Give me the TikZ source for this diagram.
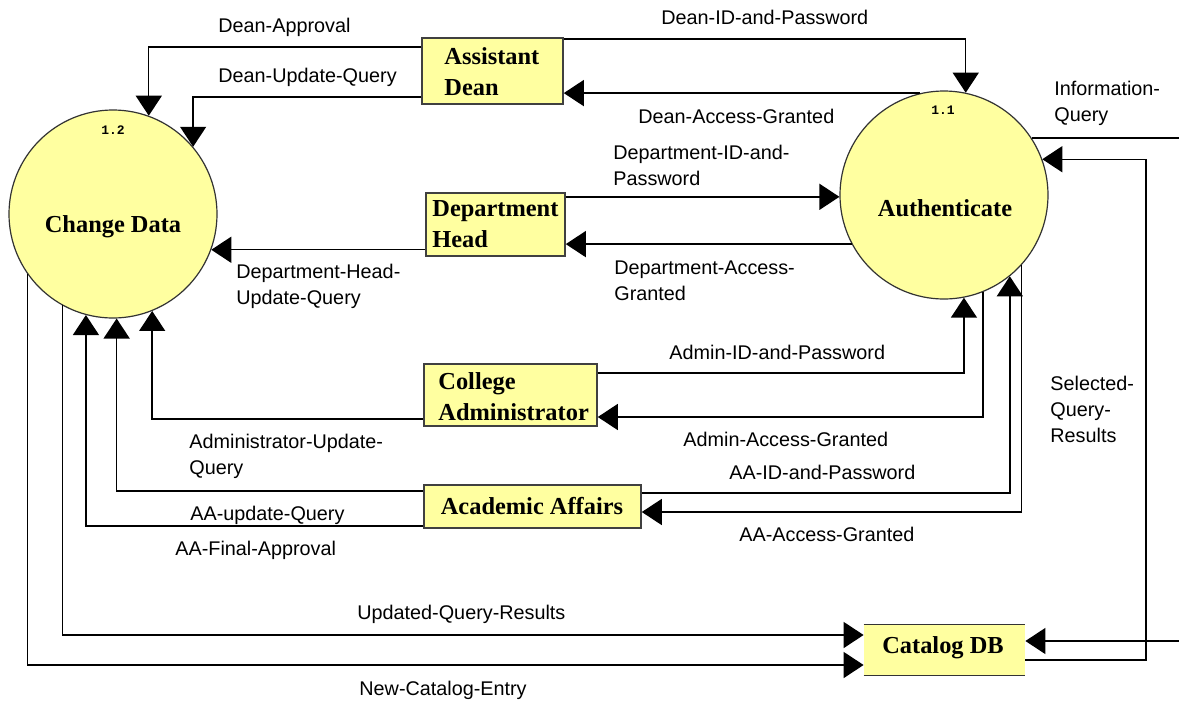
\documentclass[tikz,border=0pt]{standalone}
\usepackage{fontspec}
\setmainfont{Liberation Sans}
\newfontfamily\dfdserif{Liberation Serif}
\newfontfamily\dfdmono{Liberation Mono}
\usetikzlibrary{arrows.meta,calc}
\definecolor{dfdyellow}{RGB}{255,255,160}
\begin{document}
\begin{tikzpicture}[x=0.5pt,y=-0.5pt,
  proc/.style={circle, draw=black!80, fill=dfdyellow, line width=0.6pt, minimum size=104pt, inner sep=0pt},
  proctext/.style={font=\dfdserif\bfseries\fontsize{12.2}{15.5}\selectfont, inner sep=0pt},
  ent/.style={rectangle, draw=black!75, fill=dfdyellow, line width=0.8pt, inner sep=0pt},
  store/.style={rectangle, fill=dfdyellow, inner sep=0pt},
  enttext/.style={font=\dfdserif\bfseries\fontsize{12.2}{15.5}\selectfont, align=left, inner sep=0pt, anchor=west},
  flow/.style={draw, line width=0.7pt, -{Triangle[length=10pt,width=13pt]}},
  plainline/.style={draw, line width=0.7pt},
  lbl/.style={font=\fontsize{9.9}{13}\selectfont, align=left, inner sep=0pt, anchor=base west},
  num/.style={font=\dfdmono\bfseries\fontsize{6.5}{7}\selectfont, inner sep=0pt},
  ]
\useasboundingbox (0,0) rectangle (1179,702);

% processes
\node[proc] (cd) at (113,214) {};
\node[proctext] (cdt) at (113,227) {Change Data};
\node[num] (cdn) at (113,130) {1.2};
\node[proc] (au) at (944,195) {};
\node[proctext] (aut) at (945,208) {Authenticate};
\node[num] (aun) at (943,110) {1.1};

% external entities
\node[ent, minimum width=70.5pt, minimum height=33pt] (ad) at (492.5,71) {};
\node[enttext] (adt) at (444,71.5) {Assistant\\Dean};
\node[ent, minimum width=69.5pt, minimum height=31.5pt] (dh) at (495.5,224.5) {};
\node[enttext] (dht) at (432,224.5) {Department\\Head};
\node[ent, minimum width=86.5pt, minimum height=31pt] (ca) at (510.5,395) {};
\node[enttext] (cat) at (438,397) {College\\Administrator};
\node[ent, minimum width=108.5pt, minimum height=21.5pt] (aa) at (532.5,506.5) {};
\node[enttext, anchor=center] (aat) at (532,506) {Academic Affairs};

% data store
\node[store, minimum width=80.5pt, minimum height=25pt] (cdb) at (944.5,650) {};
\draw[plainline, black!80] (cdb.north west) -- (cdb.north east);
\draw[plainline, black!80] (cdb.south west) -- (cdb.south east);
\node[enttext, anchor=center] (cdbt) at (943,648) {Catalog DB};

\coordinate (edge) at (1179,0);
\coordinate (sqr) at (1146,0);

% flows
\draw[flow] (ad.west |- 0,47) -| (cd.70.3);
\draw[flow] (ad.west |- 0,97) -| (cd.40.6);
\draw[flow] (ad.east |- 0,39) -| (au.78.4);
\draw[flow] (au.103.8) -- (ad.east |- au.103.8);
\draw[flow] (dh.east |- au.181.65) -- (au.181.65);
\draw[flow] (au.208.1) -- (dh.east |- au.208.1);
\draw[flow] (dh.west |- cd.340.9) -- (cd.340.9);
\draw[flow] (ca.east |- 0,373) -| (au.281.65);
\draw[flow] (au.292.6) |- (ca.east |- 0,417);
\draw[flow] (aa.east |- 0,493) -| (au.309.4);
\draw[flow] (au.318.6) |- (aa.east |- 0,512);
\draw[flow] (ca.west |- 0,419) -| (cd.292.6);
\draw[flow] (aa.west |- 0,491) -| (cd.272.2);
\draw[flow] (aa.west |- 0,526) -| (cd.255.5);
\draw[flow] (cd.241.9) |- (cdb.west |- 0,635);
\draw[flow] (cd.215.2) |- (cdb.west |- 0,665);
\draw[plainline] (au.33.9) -- (edge |- au.33.9);
\draw[flow] (cdb.east |- 0,660) -| (sqr |- au.20.8) -- (au.20.8);
\draw[flow] (edge |- 0,641) -- (cdb.east |- 0,641);

% labels (base = baseline of the last line)
\node[lbl] (l1) at (218,32) {Dean-Approval};
\node[lbl] (l2) at (218,82) {Dean-Update-Query};
\node[lbl] (l3) at (661,24) {Dean-ID-and-Password};
\node[lbl] (l4) at (638,123) {Dean-Access-Granted};
\node[lbl] (l5) at (613,185) {Department-ID-and-\\Password};
\node[lbl] (l6) at (614,300) {Department-Access-\\Granted};
\node[lbl] (l7) at (236,304) {Department-Head-\\Update-Query};
\node[lbl] (l8) at (1054,121) {Information-\\Query};
\node[lbl] (l9) at (669,359) {Admin-ID-and-Password};
\node[lbl] (l10) at (683,446) {Admin-Access-Granted};
\node[lbl] (l11) at (729,479) {AA-ID-and-Password};
\node[lbl] (l12) at (739,541) {AA-Access-Granted};
\node[lbl] (l13) at (189,474) {Administrator-Update-\\Query};
\node[lbl] (l14) at (190,520) {AA-update-Query};
\node[lbl] (l15) at (175,555) {AA-Final-Approval};
\node[lbl] (l16) at (357,619) {Updated-Query-Results};
\node[lbl] (l17) at (359,695) {New-Catalog-Entry};
\node[lbl] (l18) at (1050,442) {Selected-\\Query-\\Results};
\end{tikzpicture}
\end{document}
